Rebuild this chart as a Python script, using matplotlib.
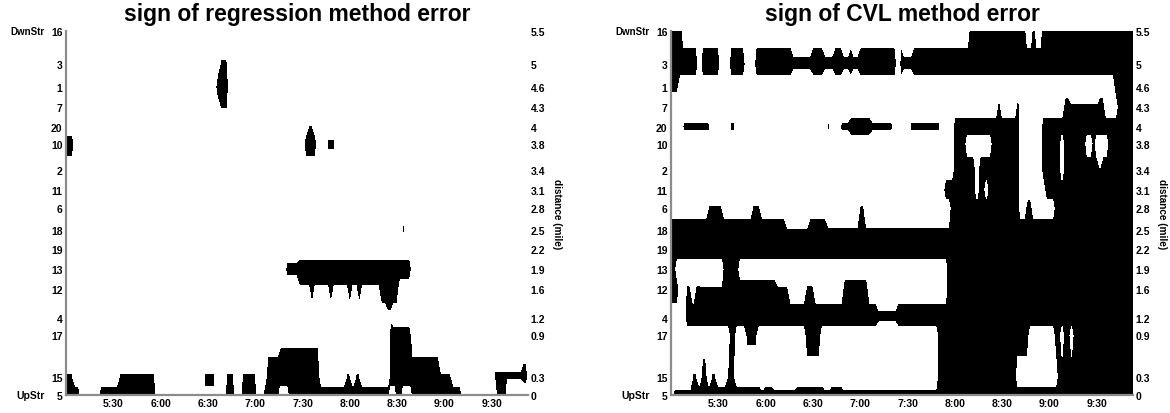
import numpy as np
import matplotlib.pyplot as plt

# stations from downstream (top) to upstream (bottom) and their distance (mile)
STATIONS = ["16", "3", "1", "7", "20", "10", "2", "11", "6",
            "18", "19", "13", "12", "4", "17", "15", "5"]
DIST = [5.5, 5.0, 4.65, 4.35, 4.05, 3.8, 3.4, 3.1, 2.82,
        2.5, 2.2, 1.9, 1.6, 1.17, 0.9, 0.27, 0.0]
DIST_LABELS = ["5.5", "5", "4.6", "4.3", "4", "3.8", "3.4", "3.1", "2.8",
               "2.5", "2.2", "1.9", "1.6", "1.2", "0.9", "0.3", "0"]

# time axis: minutes after 5:00
TIME_TICKS = [30, 60, 90, 120, 150, 180, 210, 240, 270]
TIME_LABELS = ["5:30", "6:00", "6:30", "7:00", "7:30", "8:00", "8:30", "9:00", "9:30"]
T_END = 293

# negative-error intervals per station: (start, end[, level]); level<0 -> black
REGRESSION_NEG = {
    "3": [(98, 103, -0.15)],
    "1": [(96, 103)],
    "7": [(98, 103, -0.1)],
    "20": [(153, 157, -0.1)],
    "10": [(0, 4), (152, 158), (165, 170, -0.3), (246, 246, -0.4)],
    "18": [(214, 214, -0.5)],
    "13": [(140, 146, -0.5), (148, 218)],
    "12": [(148, 200, 0.2), (156, 156), (168, 168), (180, 180), (186, 186),
           (200, 210)],
    "4": [(204, 206, 0.3)],
    "17": [(136, 160, 0.4), (206, 218)],
    "15": [(0, 4, -0.1), (34, 56, -0.1), (88, 94, -0.1), (102, 106, -0.1),
           (112, 120, -0.1), (128, 160), (178, 180, -0.1), (184, 186, -0.1),
           (206, 238), (238, 245, -0.1), (272, 288, -0.15), (290, 293, -0.5)],
    "5": [(0, 8), (22, 56), (88, 94, 0.1), (102, 106), (112, 120), (126, 134),
          (142, 204), (210, 212), (220, 250), (274, 278)],
}

CVL_NEG = {
    "16": [(0, 6), (190, 225), (229, 231), (235, 295)],
    "3": [(0, 17), (20, 31), (37, 46), (53, 61), (62, 77), (77, 90, -0.3),
          (90, 98), (98, 104, -0.3), (104, 110), (110, 114, -0.3), (114, 116),
          (116, 119, -0.3), (119, 142), (145, 148), (148, 154, -0.3), (154, 295)],
    "1": [(0, 4, -0.4), (282, 295)],
    "7": [(207, 208), (219, 220), (249, 253), (254, 270, -0.2), (272, 274),
          (284, 295)],
    "20": [(7, 24, -0.3), (37, 40, -0.3), (100, 101, -0.6), (107, 113, -0.3),
           (113, 128), (128, 141, -0.3), (151, 171, -0.3), (180, 221), (236, 295)],
    "10": [(180, 186), (203, 214), (216, 221), (236, 247), (249, 263),
           (267, 269), (277, 295)],
    "2": [(180, 192), (196, 221), (236, 247), (249, 270), (272, 272, -0.1),
          (274, 295)],
    "11": [(174, 192), (196, 199), (202, 221), (238, 295)],
    "6": [(24, 33, -0.2), (51, 57, -0.2), (120, 123, -0.2), (177, 221),
          (225, 228), (244, 295)],
    "18": [(0, 73), (73, 88, -0.05), (88, 100), (100, 120, -0.1), (120, 123),
           (123, 177, -0.1), (177, 295)],
    "19": [(0, 295)],
    "13": [(0, 3), (33, 43), (175, 295)],
    "12": [(0, 4), (9, 13, -0.2), (16, 18, -0.2), (20, 33, -0.15), (33, 68),
           (68, 74, -0.15), (86, 90, -0.2), (110, 124), (175, 295)],
    "4": [(9, 82), (84, 131), (131, 144, -0.3), (144, 295)],
    "17": [(38, 41), (47, 54, -0.3), (86, 89), (90, 92), (93, 94),
           (169, 226), (244, 247), (249, 253), (255, 295)],
    "15": [(14, 17, -0.1), (20, 23, -0.8), (26, 29, -0.1), (35, 40, -0.1),
           (169, 219), (246, 295)],
    "5": [(2, 14, -0.4), (14, 57), (57, 59, -0.4), (59, 64), (65, 80, -0.4),
          (80, 98), (98, 102, -0.4), (102, 109), (109, 169, -0.4), (169, 295)],
}

T = np.arange(0, 296, 2)


def sign_grid(neg):
    z = np.ones((len(STATIONS), len(T)))
    for i, st in enumerate(STATIONS):
        for iv in neg.get(st, []):
            lev = iv[2] if len(iv) > 2 else -1.0
            z[i, (T >= iv[0]) & (T <= iv[1])] = lev
    return z


def draw_panel(ax, neg, title):
    z = sign_grid(neg)
    d = np.array(DIST)
    ax.contourf(T, d[::-1], z[::-1], levels=[-10, 0, 10],
                colors=["black", "white"])
    ax.set_xlim(0, T_END)
    ax.set_ylim(0, 5.5)
    for s in ("top", "right"):
        ax.spines[s].set_visible(False)
    for s in ("left", "bottom"):
        ax.spines[s].set_color("#8c8c8c")
        ax.spines[s].set_linewidth(1.6)
    ax.set_xticks(TIME_TICKS)
    ax.set_xticklabels(TIME_LABELS)
    ax.set_yticks(DIST)
    ax.set_yticklabels(STATIONS)
    ax.tick_params(length=0, labelsize=7.5, pad=2.5)
    for lab in ax.get_xticklabels() + ax.get_yticklabels():
        lab.set_fontweight("bold")
    ax.set_title(title, fontsize=16.5, fontweight="bold", pad=8)
    ax.text(-0.047, 5.5, "DwnStr", transform=ax.get_yaxis_transform(),
            ha="right", va="center", fontsize=7, fontweight="bold")
    ax.text(-0.047, 0.0, "UpStr", transform=ax.get_yaxis_transform(),
            ha="right", va="center", fontsize=7.5, fontweight="bold")

    ax2 = ax.twinx()
    ax2.set_ylim(0, 5.5)
    ax2.set_yticks(DIST)
    ax2.set_yticklabels(DIST_LABELS)
    ax2.tick_params(length=0, labelsize=7.5, pad=2)
    for s in ax2.spines.values():
        s.set_visible(False)
    for lab in ax2.get_yticklabels():
        lab.set_fontweight("bold")
    ax2.set_ylabel("distance (mile)", rotation=270, fontsize=7.2,
                   fontweight="bold", labelpad=12)


plt.rcParams["font.family"] = ["Liberation Sans", "DejaVu Sans"]
fig = plt.figure(figsize=(11.7, 4.14), dpi=100)
ax_l = fig.add_axes([0.0564, 0.0435, 0.3949, 0.8792])
ax_r = fig.add_axes([0.5735, 0.0435, 0.3949, 0.8792])
draw_panel(ax_l, REGRESSION_NEG, "sign of regression method error")
draw_panel(ax_r, CVL_NEG, "sign of CVL method error")
fig.savefig("out.png", dpi=100)
